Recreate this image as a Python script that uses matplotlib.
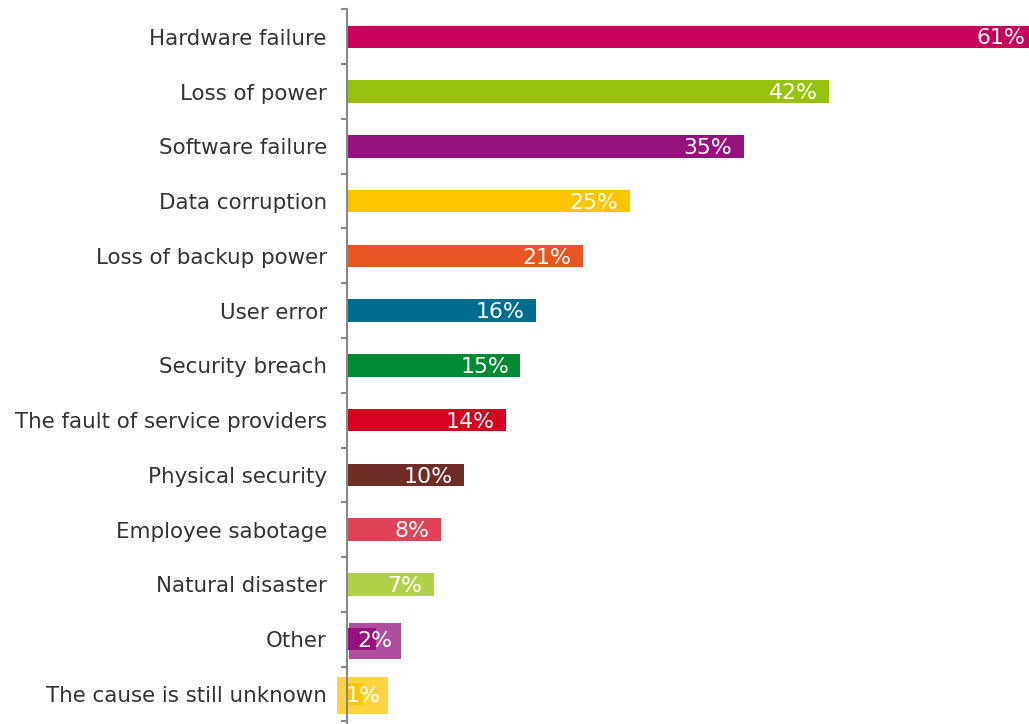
#!/usr/bin/env python3
# -*- coding: utf-8 -*-

import numpy as np
import matplotlib.pyplot as plt

causes = ['Hardware failure', 'Loss of power', 'Software failure',
          'Data corruption', 'Loss of backup power', 'User error',
          'Security breach', 'The fault of service providers',
          'Physical security', 'Employee sabotage', 'Natural disaster',
          'Other', 'The cause is still unknown']
# bar lengths, shown labels are the rounded ones
values = [61, 42.3, 34.8, 24.8, 20.7, 16.6, 15.2, 13.9, 10.3, 8.2, 7.6, 2.5, 1.4]
pct_labels = ['61%', '42%', '35%', '25%', '21%', '16%', '15%', '14%',
              '10%', '8%', '7%', '2%', '1%']
colors = ['#C8005A', '#97C20F', '#95117E', '#FDC500', '#E85522', '#006C8E',
          '#008A32', '#D6001F', '#6E2D27', '#E04257', '#B2D14B', '#95117E',
          '#FDC500']

xmax = 59.8

fig = plt.figure(figsize=(10.29, 7.24), dpi=100)
ax = fig.add_axes([347 / 1029, 0, 1 - 347 / 1029, 1 - 9.4 / 724])

y = np.arange(len(causes))
ax.barh(y, values, height=0.41, color=colors, zorder=2)

for i, v in enumerate(values):
    if v < 5:
        # label does not fit, Excel puts it in a filled box past the bar
        ax.text(v + 1.5, i + 0.03, pct_labels[i], ha='right', va='center',
                color='white', fontsize=15.8, zorder=3,
                bbox=dict(boxstyle='square,pad=0.38', facecolor=colors[i],
                          edgecolor='none', alpha=0.75))
    else:
        ax.text(min(v, xmax + 0.65) - 1.0, i + 0.03, pct_labels[i], ha='right',
                va='center', color='white', fontsize=15.8, zorder=3)

ax.set_xlim(0, xmax)
ax.set_ylim(len(causes) - 0.5 + 2.6 / 55.17, -0.5)

ax.set_yticks(y)
ax.set_yticklabels(causes, fontsize=15.4, color='#333333')
ax.set_yticks(np.arange(len(causes) + 1) - 0.5, minor=True)
ax.tick_params(axis='y', which='major', length=0, pad=14.5)
ax.tick_params(axis='y', which='minor', length=4.5, width=1.5, color='#888888')
ax.set_xticks([])

for s in ['top', 'right', 'bottom']:
    ax.spines[s].set_visible(False)
ax.spines['left'].set_color('#888888')
ax.spines['left'].set_linewidth(1.5)
ax.spines['left'].set_zorder(4)

plt.savefig('out.png')
